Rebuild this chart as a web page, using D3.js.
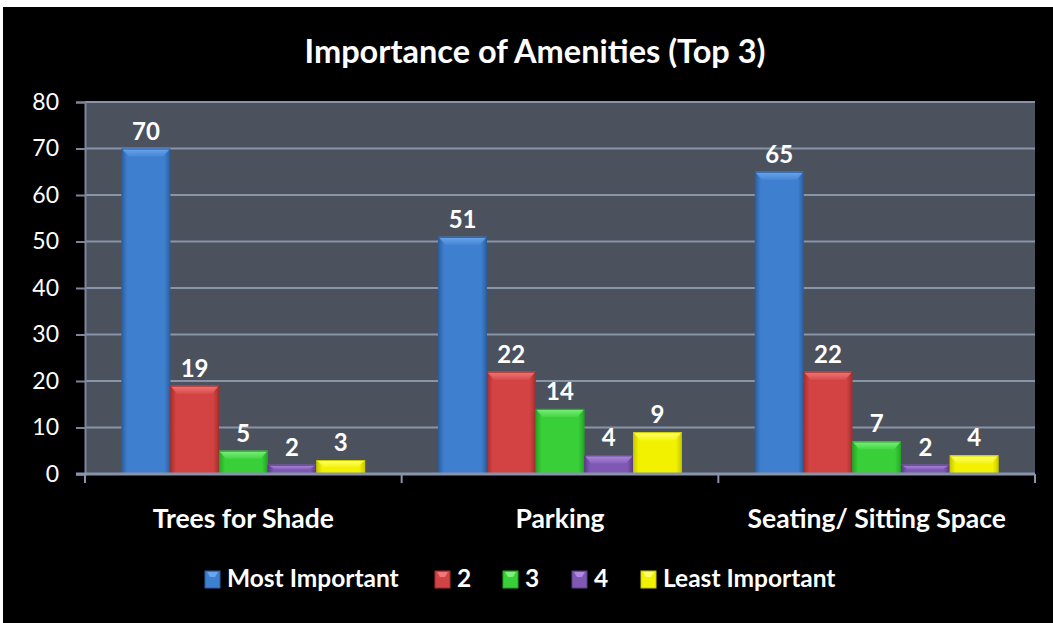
<!DOCTYPE html>
<html>
<head>
<meta charset="utf-8">
<script src="https://cdn.jsdelivr.net/npm/d3@7"></script>
<style>
  html, body { margin: 0; padding: 0; background: #fff; }
  svg { display: block; }
  text { font-family: Lato, "Open Sans", sans-serif; fill: #fff; }
</style>
</head>
<body>
<svg id="chart" width="1053" height="623"></svg>
<script>
// data
const categories = ["Trees for Shade", "Parking", "Seating/ Sitting Space"];
const seriesNames = ["Most Important", "2", "3", "4", "Least Important"];
const mostImportant = [70, 51, 65];
const rank2 = [19, 22, 22];
const rank3 = [5, 14, 7];
const rank4 = [2, 4, 2];
const leastImportant = [3, 9, 4];
const yTicks = [0, 10, 20, 30, 40, 50, 60, 70, 80];

const seriesValues = [mostImportant, rank2, rank3, rank4, leastImportant];
const colors = [
  { mid: "#3f7fd0", light: "#6aa6ee", dark: "#2c5f9e" },
  { mid: "#d44343", light: "#f07878", dark: "#a42f2f" },
  { mid: "#38cf38", light: "#7cf07c", dark: "#25a525" },
  { mid: "#7e58b2", light: "#b08ae0", dark: "#5b3d86" },
  { mid: "#f2f200", light: "#ffff70", dark: "#c8c800" }
];

const svg = d3.select("#chart");
const W = 1053, H = 623;

// black panel with thin white top/left strip like the screenshot
svg.append("rect").attr("x", 3).attr("y", 7).attr("width", W - 3).attr("height", H - 7).attr("fill", "#000");

const plot = { left: 85, right: 1035, top: 102, bottom: 474 };

const x0 = d3.scaleBand().domain(categories).range([plot.left, plot.right]).paddingInner(0).paddingOuter(0);
const x1 = d3.scaleBand().domain(d3.range(seriesNames.length)).range([0, x0.bandwidth()]).paddingOuter(0.75).paddingInner(0);
const y = d3.scaleLinear().domain([0, 80]).range([plot.bottom, plot.top]);

// gradients per series
const defs = svg.append("defs");
colors.forEach((c, i) => {
  const g = defs.append("linearGradient").attr("id", "hg" + i).attr("x1", 0).attr("x2", 1).attr("y1", 0).attr("y2", 0);
  g.append("stop").attr("offset", "0%").attr("stop-color", c.dark);
  g.append("stop").attr("offset", "12%").attr("stop-color", c.mid);
  g.append("stop").attr("offset", "50%").attr("stop-color", c.mid);
  g.append("stop").attr("offset", "88%").attr("stop-color", c.mid);
  g.append("stop").attr("offset", "100%").attr("stop-color", c.dark);
  const v = defs.append("linearGradient").attr("id", "vg" + i).attr("x1", 0).attr("x2", 0).attr("y1", 0).attr("y2", 1);
  v.append("stop").attr("offset", "0%").attr("stop-color", c.light).attr("stop-opacity", 1);
  v.append("stop").attr("offset", "100%").attr("stop-color", c.light).attr("stop-opacity", 0.2);
});

// plot background
svg.append("rect")
  .attr("x", plot.left).attr("y", plot.top)
  .attr("width", plot.right - plot.left).attr("height", plot.bottom - plot.top)
  .attr("fill", "#4b525e");

// gridlines
svg.append("g").selectAll("line").data(yTicks.filter(t => t > 0)).join("line")
  .attr("x1", plot.left).attr("x2", plot.right)
  .attr("y1", d => y(d)).attr("y2", d => y(d))
  .attr("stroke", "#8794aa").attr("stroke-width", 2);

// y axis
const yAxis = svg.append("g").attr("transform", `translate(${plot.left},0)`)
  .call(d3.axisLeft(y).tickValues(yTicks).tickSize(9).tickPadding(17));
yAxis.select(".domain").attr("stroke", "#7c879b").attr("stroke-width", 2);
yAxis.selectAll(".tick line").attr("stroke", "#7c879b").attr("stroke-width", 2);
yAxis.selectAll(".tick text").style("font-family", "Lato, 'Open Sans', sans-serif")
  .attr("font-size", 23).attr("fill", "#fff");

// bars
const groups = svg.append("g").selectAll("g").data(categories).join("g")
  .attr("transform", d => `translate(${x0(d)},0)`);

groups.each(function(cat, ci) {
  const g = d3.select(this);
  seriesValues.forEach((vals, si) => {
    const v = vals[ci];
    const bx = x1(si), bw = x1.bandwidth();
    const by = y(v), bh = y(0) - y(v);
    g.append("rect").attr("x", bx).attr("y", by).attr("width", bw).attr("height", bh)
      .attr("fill", `url(#hg${si})`);
    // top bevel
    const bev = Math.min(8, bh / 2);
    g.append("path")
      .attr("d", `M${bx},${by}H${bx + bw}L${bx + bw - 7},${by + bev}H${bx + 7}Z`)
      .attr("fill", `url(#vg${si})`);
    g.append("rect").attr("x", bx + 0.5).attr("y", by + 0.5).attr("width", bw - 1).attr("height", Math.max(0, bh - 1))
      .attr("fill", "none").attr("stroke", colors[si].dark).attr("stroke-width", 1);
    g.append("text")
      .attr("x", bx + bw / 2).attr("y", by - 9)
      .attr("text-anchor", "middle")
      .attr("font-size", 24).attr("font-weight", "bold")
      .text(v);
  });
});

// x axis
const xAxisY = plot.bottom;
svg.append("line").attr("x1", plot.left - 9).attr("x2", plot.right)
  .attr("y1", xAxisY).attr("y2", xAxisY).attr("stroke", "#8794aa").attr("stroke-width", 3);
const xTickPos = categories.map(c => x0(c)).concat([plot.right]);
svg.append("g").selectAll("line").data(xTickPos).join("line")
  .attr("x1", d => d).attr("x2", d => d)
  .attr("y1", xAxisY).attr("y2", xAxisY + 9)
  .attr("stroke", "#8794aa").attr("stroke-width", 2);
svg.append("g").selectAll("text").data(categories).join("text")
  .attr("x", d => x0(d) + x0.bandwidth() / 2).attr("y", 528)
  .attr("text-anchor", "middle")
  .attr("font-size", 26.5).attr("font-weight", "bold")
  .text(d => d);

// title
svg.append("text").attr("x", 535).attr("y", 63).attr("text-anchor", "middle")
  .attr("font-size", 32.5).attr("font-weight", "bold")
  .text("Importance of Amenities (Top 3)");

// legend
const legendX = [205, 435, 503, 572, 641];
const leg = svg.append("g").selectAll("g").data(seriesNames).join("g")
  .attr("transform", (d, i) => `translate(${legendX[i]},571)`);
leg.append("rect").attr("width", 15).attr("height", 17).attr("fill", (d, i) => colors[i].mid)
  .attr("stroke", (d, i) => colors[i].dark);
leg.append("path").attr("d", "M2,1H13L10,6H5Z").attr("fill", (d, i) => colors[i].light);
leg.append("text").attr("x", 22).attr("y", 16)
  .attr("font-size", 24.5).attr("font-weight", "bold")
  .text(d => d);
</script>
</body>
</html>
